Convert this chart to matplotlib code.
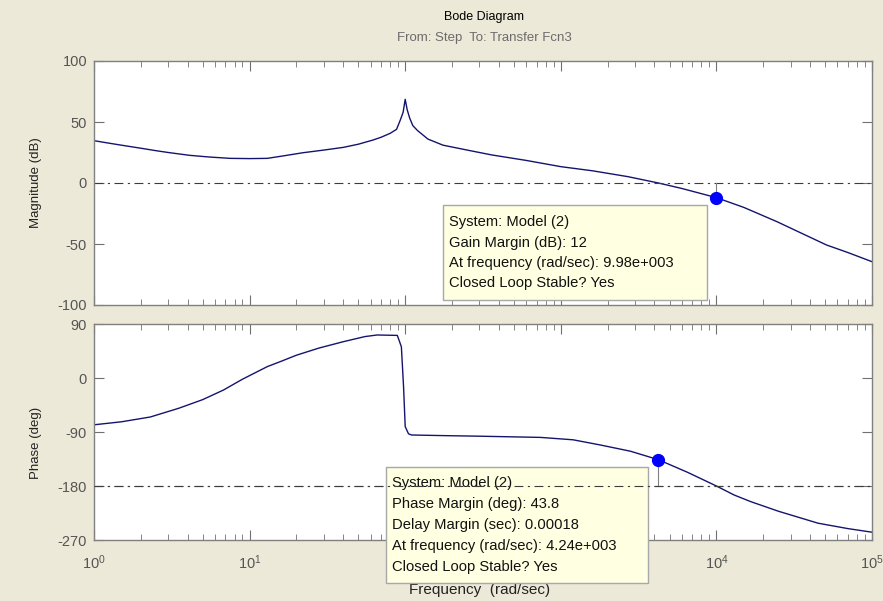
import numpy as np
import matplotlib
matplotlib.use("Agg")
import matplotlib.pyplot as plt
from matplotlib.patches import Rectangle
from matplotlib.lines import Line2D
from matplotlib.ticker import LogLocator, NullFormatter

plt.rcParams['font.family'] = ['Liberation Sans', 'DejaVu Sans']
plt.rcParams['font.size'] = 9.5
plt.rcParams['axes.unicode_minus'] = False

# magnitude response (rad/sec, dB)
mag_freq = [1.0, 1.2, 1.5, 2.0, 2.5, 3.0, 4.1, 5.5, 7.5, 10, 13, 17, 22, 30, 40, 50, 62,
            70, 80, 88, 93, 97, 100, 103, 107, 112, 120, 140, 175, 250, 360, 600,
            1000, 1600, 2700, 4240, 6000, 10000, 15000, 24500, 35000, 51000, 70000, 100000]
mag_db = [34.7, 33.0, 31.0, 28.5, 26.5, 25.0, 22.7, 21.3, 20.2, 20.0, 20.2, 22.5, 24.8,
          27.0, 29.2, 31.8, 35.2, 37.5, 40.7, 44.0, 51.6, 58.0, 68.6, 60.0, 53.0, 47.0,
          43.0, 36.0, 31.0, 27.0, 23.0, 18.5, 13.4, 10.0, 5.2, 0.0, -4.5, -12.0, -20.0,
          -31.7, -41.0, -50.8, -57.0, -64.5]

# phase response (rad/sec, deg)
ph_freq = [1.0, 1.5, 2.3, 3.5, 5.0, 6.8, 9.0, 13, 16, 20, 28, 40, 55, 66, 89, 94.5, 97.6,
           100, 105, 110, 175, 300, 740, 1200, 1800, 2800, 4240, 6500, 10000, 13000,
           16600, 25000, 45000, 70000, 100000]
ph_deg = [-78, -73, -65, -50.5, -36, -20, -2, 19, 28, 38, 50, 60.5, 69, 71.7, 71, 52,
          -14.5, -81, -93, -95, -96, -97, -99, -103, -111.7, -122, -136.2, -157, -180,
          -195, -206, -222, -242, -251, -257]

mag_ticks = [-100, -50, 0, 50, 100]
ph_ticks = [-270, -180, -90, 0, 90]

# margin data tips
gm_freq, gm_db = 9.98e3, -12.0
pm_freq, pm_deg = 4.24e3, -136.2
gm_lines = ["System: Model (2)", "Gain Margin (dB): 12",
            "At frequency (rad/sec): 9.98e+003", "Closed Loop Stable? Yes"]
pm_lines = ["System: Model (2)", "Phase Margin (deg): 43.8", "Delay Margin (sec): 0.00018",
            "At frequency (rad/sec): 4.24e+003", "Closed Loop Stable? Yes"]

W, H = 883, 601
bg = '#ece9d8'
curve_col = '#14146e'
ref_col = '#3c3c3c'
tick_col = '#555555'

fig = plt.figure(figsize=(W / 100, H / 100), dpi=100, facecolor=bg)


def fx(px):
    return px / W


def fy(py):
    return 1 - py / H


ax1 = fig.add_axes([fx(94), fy(305), fx(872) - fx(94), fy(61) - fy(305)])
ax2 = fig.add_axes([fx(94), fy(540), fx(872) - fx(94), fy(324) - fy(540)])

for ax in (ax1, ax2):
    ax.set_xscale('log')
    ax.set_xlim(1, 1e5)
    ax.xaxis.set_major_locator(LogLocator(base=10, numticks=10))
    ax.xaxis.set_minor_locator(LogLocator(base=10, subs=np.arange(2, 10), numticks=20))
    ax.xaxis.set_minor_formatter(NullFormatter())
    ax.tick_params(which='both', direction='in', top=True, right=True,
                   colors='#707070', labelcolor=tick_col, labelsize=10.5)
    ax.tick_params(which='major', length=7, pad=5)
    ax.tick_params(which='minor', length=4)
    for s in ax.spines.values():
        s.set_color('#808080')
        s.set_linewidth(1.0)

ax1.plot(mag_freq, mag_db, color=curve_col, lw=1.0)
ax1.axhline(0, color=ref_col, lw=0.8, ls=(0, (8, 4, 2, 4)))
ax1.plot([gm_freq, gm_freq], [0, gm_db], color='#808080', lw=0.8)
ax1.plot([gm_freq], [gm_db], 'o', color='#0000ff', ms=8.5)
ax1.set_ylim(-100, 100)
ax1.set_yticks(mag_ticks)
ax1.tick_params(labelbottom=False)
ax1.set_ylabel('Magnitude (dB)', color='#222222')
ax1.yaxis.set_label_coords((42 - 94) / 778, 0.5)

ax2.plot(ph_freq, ph_deg, color=curve_col, lw=1.0)
ax2.axhline(-180, color=ref_col, lw=0.8, ls=(0, (8, 4, 2, 4)))
ax2.plot([pm_freq, pm_freq], [-180, pm_deg], color='#808080', lw=0.8)
ax2.plot([pm_freq], [pm_deg], 'o', color='#0000ff', ms=8.5)
ax2.set_ylim(-270, 90)
ax2.set_yticks(ph_ticks)
ax2.tick_params(axis='x', which='major', pad=10)
ax2.set_ylabel('Phase (deg)', color='#222222')
ax2.yaxis.set_label_coords((42 - 94) / 778, (540 - 443) / 216)

fig.text(fx(484), fy(17), 'Bode Diagram', ha='center', va='center', color='black',
         fontsize=9)
fig.text(fx(484), fy(38), 'From: Step  To: Transfer Fcn3', ha='center', va='center',
         color='#6b6b6b', fontsize=9.5)
fig.text(fx(480), fy(590), 'Frequency  (rad/sec)', ha='center', va='center',
         color='#222222', fontsize=11)


def datatip(x0, y0, x1, y1, lines, first_y, step):
    fig.add_artist(Rectangle((fx(x0), fy(y1)), fx(x1) - fx(x0), fy(y0) - fy(y1),
                             transform=fig.transFigure, facecolor='#ffffe1',
                             edgecolor='#a8a8a8', lw=1.0, zorder=5))
    for i, t in enumerate(lines):
        fig.text(fx(x0 + 6), fy(first_y + i * step), t, ha='left', va='center',
                 color='#111111', fontsize=10.6, zorder=6)


datatip(443, 205, 707, 300, gm_lines, 222, 20.5)
datatip(386, 467, 648, 583, pm_lines, 483.5, 20.8)

# the -180 reference line shows through the lower data tip
fig.add_artist(Line2D([0, 1], [-180, -180], transform=ax2.get_yaxis_transform(),
                      color=ref_col, lw=0.8, ls=(0, (8, 4, 2, 4)), zorder=7))

fig.savefig('out.png', dpi=100, facecolor=bg)
